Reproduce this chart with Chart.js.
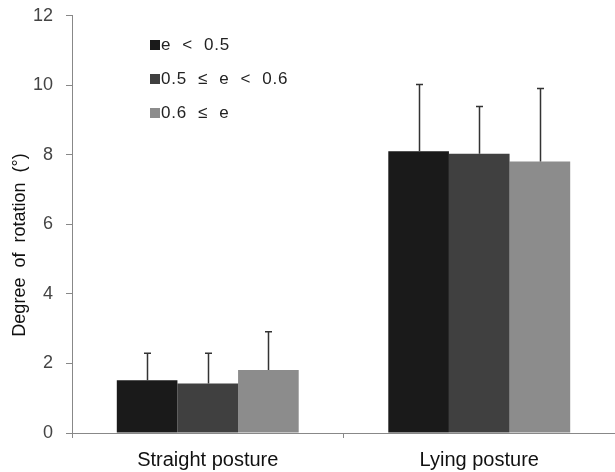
<!DOCTYPE html>
<html>
<head>
<meta charset="utf-8">
<script src="https://cdn.jsdelivr.net/npm/chart.js@4/dist/chart.umd.min.js"></script>
<style>
  html, body { margin: 0; padding: 0; background: #fff; }
  #wrap { width: 615px; height: 472px; position: relative; }
</style>
</head>
<body>
<div id="wrap"><canvas id="rotationChart"></canvas></div>
<script>
const categories = ['Straight posture', 'Lying posture'];
const seriesNames = ['e  <  0.5', '0.5  \u2264  e  <  0.6', '0.6  \u2264  e'];
const lowE = [1.52, 8.10];
const midE = [1.42, 8.03];
const highE = [1.81, 7.81];
// standard deviations (upper error bars only)
const lowSD = [0.77, 1.92];
const midSD = [0.87, 1.36];
const highSD = [1.10, 2.10];
const yTicks = [0, 2, 4, 6, 8, 10, 12];
const yTitle = 'Degree  of  rotation  (\u00b0)';

const FONT = "'Liberation Sans', Arial, sans-serif";
const colors = ['#1a1a1a', '#404040', '#8c8c8c'];

// one-sided error bars drawn through the scales
const errorBars = {
    id: 'errorBars',
    afterDatasetsDraw(chart) {
        const ctx = chart.ctx;
        const y = chart.scales.y;
        ctx.save();
        ctx.strokeStyle = '#333';
        ctx.lineWidth = 1.5;
        chart.data.datasets.forEach((ds, i) => {
            const meta = chart.getDatasetMeta(i);
            meta.data.forEach((bar, j) => {
                const top = y.getPixelForValue(ds.data[j] + ds.sd[j]);
                const x = Math.round(bar.x) + 0.5;
                ctx.beginPath();
                ctx.moveTo(x, bar.y);
                ctx.lineTo(x, top);
                ctx.moveTo(x - 3.5, top);
                ctx.lineTo(x + 3.5, top);
                ctx.stroke();
            });
        });
        ctx.restore();
    }
};

// legend inside the plot (top-left) and the y title, a bit below centre
const annotations = {
    id: 'annotations',
    afterDraw(chart) {
        const ctx = chart.ctx;
        ctx.save();
        ctx.font = '17px ' + FONT;
        ctx.letterSpacing = '0.8px';
        ctx.textBaseline = 'middle';
        chart.data.datasets.forEach((ds, i) => {
            const ly = 45 + i * 34;
            ctx.fillStyle = ds.backgroundColor;
            ctx.fillRect(150, ly - 5, 10, 10);
            ctx.fillStyle = '#222';
            ctx.fillText(ds.label, 161, ly);
        });

        ctx.letterSpacing = '0px';
        ctx.translate(20, 245);
        ctx.rotate(-Math.PI / 2);
        ctx.textAlign = 'center';
        ctx.font = '18px ' + FONT;
        ctx.fillStyle = '#111';
        ctx.fillText(yTitle, 0, 0);
        ctx.restore();
    }
};

new Chart(document.getElementById('rotationChart'), {
    type: 'bar',
    data: {
        labels: categories,
        datasets: [
            { label: seriesNames[0], data: lowE, sd: lowSD, backgroundColor: colors[0] },
            { label: seriesNames[1], data: midE, sd: midSD, backgroundColor: colors[1] },
            { label: seriesNames[2], data: highE, sd: highSD, backgroundColor: colors[2] }
        ]
    },
    options: {
        responsive: true,
        maintainAspectRatio: false,
        animation: false,
        layout: { padding: { top: 15, right: 0, left: 0, bottom: 0 } },
        datasets: {
            bar: { barPercentage: 1, categoryPercentage: 0.67 }
        },
        plugins: {
            legend: { display: false },
            tooltip: { enabled: false }
        },
        scales: {
            x: {
                border: { color: '#888', width: 1 },
                grid: {
                    offset: true,
                    drawOnChartArea: false,
                    drawTicks: true,
                    tickLength: 5,
                    color: '#888'
                },
                ticks: {
                    color: '#111',
                    padding: 10,
                    font: { size: 20, family: FONT }
                },
                afterFit: (scale) => { scale.height = 39; }
            },
            y: {
                min: 0,
                max: 12,
                afterBuildTicks: (scale) => {
                    scale.ticks = yTicks.map(v => ({ value: v }));
                },
                border: { color: '#888', width: 1 },
                grid: {
                    drawOnChartArea: false,
                    drawTicks: true,
                    tickLength: 6,
                    color: '#888'
                },
                ticks: {
                    color: '#444',
                    padding: 13,
                    font: { size: 18, family: FONT, lineHeight: 0.3 }
                },
                afterFit: (scale) => { scale.width = 72; }
            }
        }
    },
    plugins: [errorBars, annotations]
});
</script>
</body>
</html>
